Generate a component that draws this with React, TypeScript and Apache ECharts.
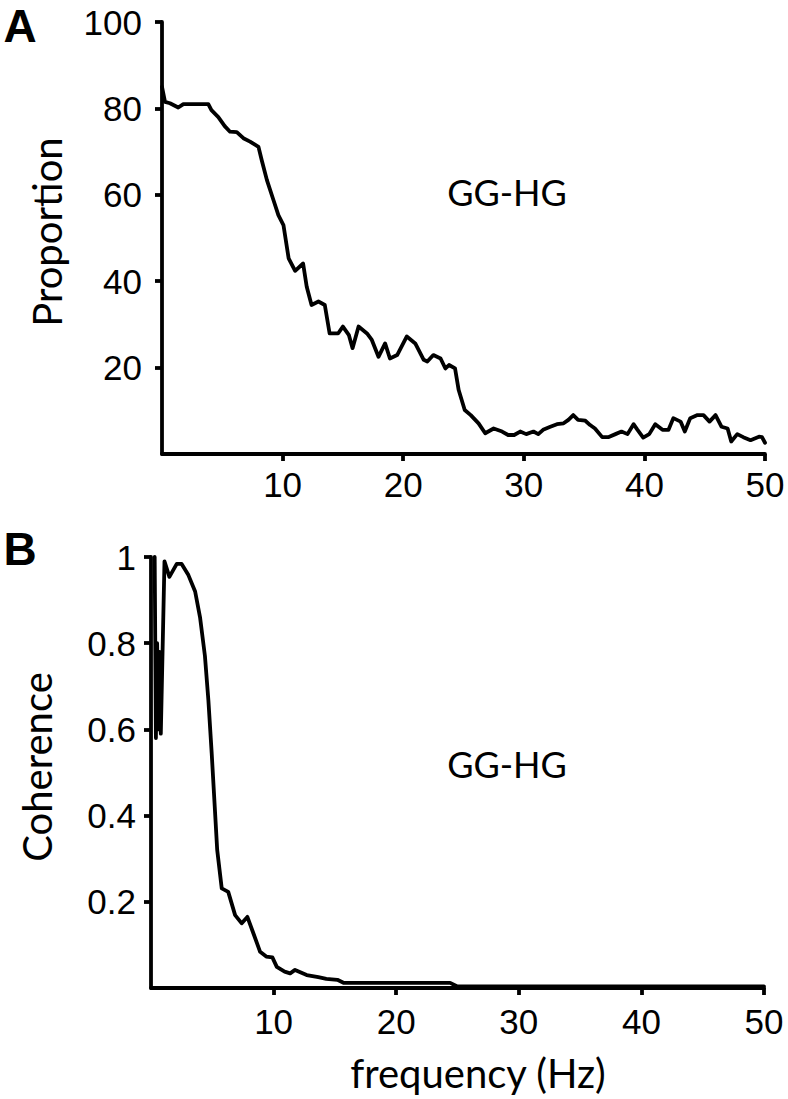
import React, { useEffect, useRef } from "react";
import * as echarts from "echarts";

// Panel A: proportion vs frequency (Hz)
const freqA = [0, 0.25, 0.66, 1.35, 1.77, 3.84, 4.1, 4.67, 5.2, 5.64, 6.2, 6.75, 7.3, 8.0, 8.27, 8.7, 9.24, 9.65, 10.07, 10.5, 11.04, 11.7, 12.0, 12.4, 12.97, 13.5, 13.9, 14.6, 15.0, 15.5, 15.8, 16.3, 17.0, 17.4, 17.95, 18.5, 18.9, 19.5, 20.3, 21.0, 21.7, 22.0, 22.5, 23.1, 23.5, 23.8, 24.3, 24.6, 25.1, 25.6, 26.25, 26.8, 27.5, 28.2, 28.7, 29.2, 29.7, 30.2, 30.8, 31.2, 31.6, 32.2, 32.75, 33.3, 33.7, 34.1, 34.5, 35.1, 35.5, 35.9, 36.5, 37.0, 37.6, 38.1, 38.6, 39.1, 39.4, 39.9, 40.4, 40.9, 41.5, 42.0, 42.4, 43.0, 43.35, 43.8, 44.4, 44.9, 45.4, 45.9, 46.4, 46.9, 47.2, 47.7, 48.2, 48.8, 49.5, 49.75, 50];
const proportionA = [85, 81.5, 81.2, 80.2, 81, 81, 79.6, 78, 75.9, 74.6, 74.5, 73.1, 72.3, 71.1, 68, 63.4, 58.8, 55.3, 53, 45.3, 42.4, 44.1, 38.7, 34.5, 35.3, 34.5, 27.9, 27.9, 29.5, 27.5, 24.5, 29.5, 27.9, 26.4, 22.5, 25.6, 22.1, 22.9, 27.2, 25.6, 21.8, 21.4, 22.9, 22.1, 19.8, 20.6, 19.8, 14.8, 10.2, 9.0, 7.1, 4.8, 5.9, 5.2, 4.4, 4.4, 5.2, 4.6, 5.2, 4.6, 5.6, 6.3, 6.9, 7.1, 7.9, 9.0, 7.9, 7.7, 6.7, 5.9, 3.9, 3.9, 4.6, 5.2, 4.6, 6.9, 5.7, 3.8, 4.6, 6.9, 5.6, 5.6, 8.3, 7.5, 5.2, 8.3, 9.0, 9.0, 7.5, 9.0, 6.3, 5.9, 2.9, 4.6, 3.9, 3.2, 4.0, 3.9, 2.6];

// Panel B: coherence vs frequency (Hz)
const freqB = [0.3, 0.4, 0.5, 0.6, 0.7, 0.8, 1.1, 1.5, 2.1, 2.5, 3.05, 3.6, 4.0, 4.4, 4.68, 4.95, 5.2, 5.4, 5.77, 6.3, 6.86, 7.4, 7.86, 8.35, 8.9, 9.4, 9.9, 10.26, 10.9, 11.35, 11.75, 12.7, 13.65, 14.3, 15.2, 15.7, 24.4, 24.95, 50];
const coherenceB = [1.0, 0.58, 0.8, 0.6, 0.78, 0.59, 0.99, 0.954, 0.984, 0.984, 0.958, 0.92, 0.86, 0.77, 0.668, 0.545, 0.42, 0.32, 0.231, 0.223, 0.169, 0.15, 0.165, 0.127, 0.084, 0.073, 0.071, 0.049, 0.038, 0.034, 0.042, 0.03, 0.025, 0.021, 0.019, 0.012, 0.012, 0.004, 0.004];

const xTicks = [10, 20, 30, 40, 50];
const yTicksA = [20, 40, 60, 80, 100];
const yTicksB = [0.2, 0.4, 0.6, 0.8, 1];

const panelLabels = ["A", "B"];
const annotation = "GG-HG";
const yTitles = ["Proportion", "Coherence"];
const xTitle = "frequency (Hz)";

const numFont = "'Liberation Sans', Arial, sans-serif";
const textFont = "Lato, 'Open Sans', sans-serif";

export default function App() {
  const ref = useRef<HTMLDivElement>(null);
  useEffect(() => {
    if (!ref.current) return;
    const chart = echarts.init(ref.current, undefined, { renderer: "svg" });
    const axisLine = { show: true, lineStyle: { color: "#000", width: 3.8 } };
    const tick = (vals: number[]) => ({
      show: true,
      inside: false,
      length: 7,
      lineStyle: { color: "#000", width: 3.8 },
      customValues: vals,
    });
    const label = (vals: number[], margin: number) => ({
      show: true,
      color: "#000",
      fontSize: 35,
      fontFamily: numFont,
      margin,
      customValues: vals,
    });
    chart.setOption({
      animation: false,
      backgroundColor: "#fff",
      grid: [
        { left: 162, top: 22, width: 603, height: 432 },
        { left: 151, top: 557, width: 613, height: 431 },
      ],
      xAxis: [
        {
          type: "value", gridIndex: 0, min: 0, max: 50, interval: 10,
          axisLine, axisTick: tick(xTicks), axisLabel: label(xTicks, 13), splitLine: { show: false },
        },
        {
          type: "value", gridIndex: 1, min: 0, max: 50, interval: 10,
          axisLine, axisTick: tick(xTicks), axisLabel: label(xTicks, 16), splitLine: { show: false },
        },
      ],
      yAxis: [
        {
          type: "value", gridIndex: 0, min: 0, max: 100, interval: 20,
          axisLine, axisTick: tick(yTicksA), axisLabel: label(yTicksA, 20), splitLine: { show: false },
        },
        {
          type: "value", gridIndex: 1, min: 0, max: 1, interval: 0.2,
          axisLine, axisTick: tick(yTicksB), axisLabel: label(yTicksB, 15), splitLine: { show: false },
        },
      ],
      series: [
        {
          type: "line", xAxisIndex: 0, yAxisIndex: 0, showSymbol: false, symbol: "none",
          data: freqA.map((f, i) => [f, proportionA[i]]),
          lineStyle: { color: "#000", width: 3.8, join: "round", cap: "round" },
        },
        {
          type: "line", xAxisIndex: 1, yAxisIndex: 1, showSymbol: false, symbol: "none",
          data: freqB.map((f, i) => [f, coherenceB[i]]),
          lineStyle: { color: "#000", width: 3.8, join: "round", cap: "round" },
        },
      ],
      graphic: [
        { type: "text", x: 20, y: 26, style: { text: panelLabels[0], font: `bold 46px ${numFont}`, fill: "#000", align: "center", verticalAlign: "middle" } },
        { type: "text", x: 20, y: 549, style: { text: panelLabels[1], font: `bold 46px ${numFont}`, fill: "#000", align: "center", verticalAlign: "middle" } },
        { type: "text", x: 507, y: 192, style: { text: annotation, font: `36px ${textFont}`, fill: "#000", align: "center", verticalAlign: "middle" } },
        { type: "text", x: 507, y: 764, style: { text: annotation, font: `36px ${textFont}`, fill: "#000", align: "center", verticalAlign: "middle" } },
        { type: "text", x: 47, y: 232, rotation: Math.PI / 2, style: { text: yTitles[0], font: `40px ${textFont}`, fill: "#000", align: "center", verticalAlign: "middle" } },
        { type: "text", x: 37, y: 767, rotation: Math.PI / 2, style: { text: yTitles[1], font: `40px ${textFont}`, fill: "#000", align: "center", verticalAlign: "middle" } },
        { type: "text", x: 478, y: 1073, style: { text: xTitle, font: `40px ${textFont}`, fill: "#000", align: "center", verticalAlign: "middle" } },
      ],
    });
    return () => chart.dispose();
  }, []);
  return (
    <div
      ref={ref}
      style={{ position: "absolute", left: 0, top: 0, width: 788, height: 1099 }}
    />
  );
}
